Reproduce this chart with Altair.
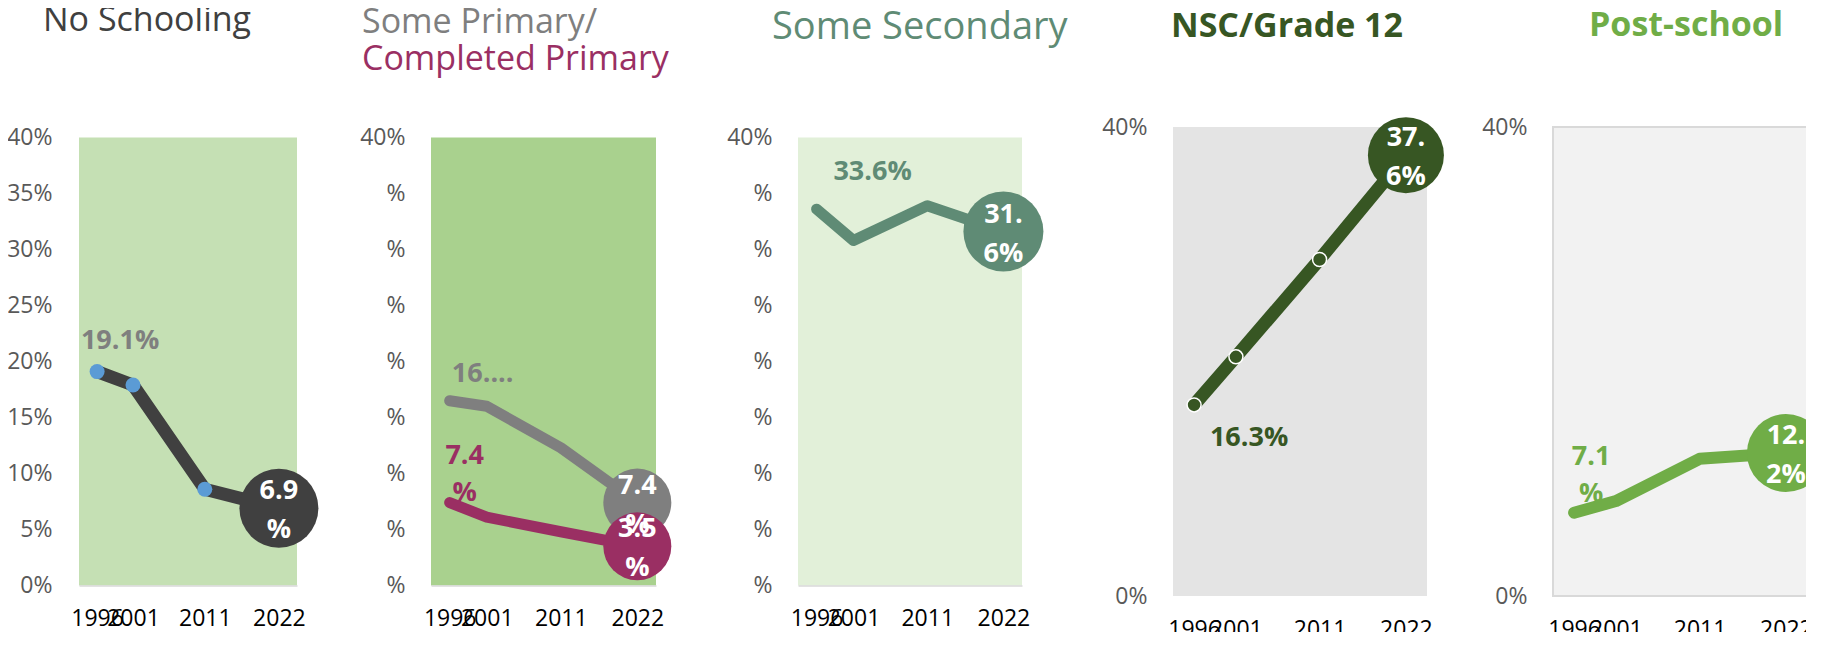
import altair as alt
import pandas as pd

# Census dates as decimal years (Oct 1996, Oct 2001, Oct 2011, Feb 2022)
census_years = [1996.77, 2001.77, 2011.77, 2022.09]
x_domain = [1994.25, 2024.61]

no_schooling = [19.1, 17.9, 8.6, 6.9]
some_primary = [16.5, 16.0, 12.3, 7.4]
completed_primary = [7.4, 6.1, 4.8, 3.5]
some_secondary = [33.6, 30.8, 33.9, 31.6]
nsc_grade12 = [16.3, 20.4, 28.7, 37.6]
post_school = [7.1, 8.1, 11.7, 12.2]

first_labels = ["19.1%", "16....", "7.4\n%", "33.6%", "16.3%", "7.1\n%"]
last_labels = ["6.9\n%", "7.4\n%", "3.5\n%", "31.\n6%", "37.\n6%", "12.\n2%"]

y_ticks_all = [0, 5, 10, 15, 20, 25, 30, 35, 40]
y_ticks_ends = [0, 40]

FONT = "Open Sans"


def axes(y_values, y_expr, y_pad, x_domain_line):
    X = alt.X(
        "year:Q",
        scale=alt.Scale(domain=x_domain, nice=False, zero=False),
        axis=alt.Axis(
            values=census_years, labelExpr="'' + floor(datum.value)", title=None,
            grid=False, ticks=False, tickSize=0, domain=x_domain_line,
            domainColor="#d9d9d9", domainWidth=1.5, labelFont=FONT, labelFontSize=23,
            labelColor="#000000", labelPadding=22, labelOverlap=False, labelFlush=False,
            labelBound=False,
        ),
    )
    Y = alt.Y(
        "value:Q",
        scale=alt.Scale(domain=[0, 40], nice=False, zero=True),
        axis=alt.Axis(
            values=y_values, labelExpr=y_expr, title=None, grid=False, ticks=False,
            tickSize=0, domain=False, labelFont=FONT, labelFontSize=23,
            labelColor="#595959", labelPadding=y_pad, labelOverlap=False,
            labelFlush=False, labelBound=False,
        ),
    )
    return X, Y


def make_panel(series, width, height, bg, y_values, y_expr, y_pad, title,
               x_domain_line=True, view_stroke=None, marker=None):
    X, Y = axes(y_values, y_expr, y_pad, x_domain_line)
    first_layers, line_layers, circle_layers, text_layers = [], [], [], []
    for s in series:
        df = pd.DataFrame({"year": census_years, "value": s["values"], "idx": [0, 1, 2, 3]})
        first = pd.DataFrame({"year": [census_years[0]], "value": [s["values"][0]],
                              "text": [s["first"]]})
        last = pd.DataFrame({"year": [census_years[-1]], "value": [s["values"][-1]],
                             "text": [s["last"]]})
        first_layers.append(
            alt.Chart(first).mark_text(
                font=FONT, fontSize=27, fontWeight="bold", color=s["label_color"],
                dx=s["dx"], dy=s["dy"], lineBreak="\n", lineHeight=37,
                align="center", baseline="middle",
            ).encode(x=X, y=Y, text="text:N")
        )
        line_layers.append(
            alt.Chart(df).mark_line(
                color=s["color"], strokeWidth=s["width"], strokeCap="round",
                strokeJoin="round",
            ).encode(x=X, y=Y)
        )
        if marker is not None:
            line_layers.append(
                alt.Chart(df).transform_filter(alt.datum.idx < 3).mark_point(
                    shape="circle", filled=True, opacity=1, size=marker["size"],
                    fill=marker["fill"], stroke=marker["stroke"],
                    strokeWidth=marker["strokeWidth"],
                ).encode(x=X, y=Y)
            )
        circle_layers.append(
            alt.Chart(last).mark_point(
                shape="circle", filled=True, opacity=1, size=s["circle"], color=s["color"],
            ).encode(x=X, y=Y)
        )
        text_layers.append(
            alt.Chart(last).mark_text(
                font=FONT, fontSize=27, fontWeight="bold", color="#ffffff",
                lineBreak="\n", lineHeight=39, align="center", baseline="middle", dy=-17,
            ).encode(x=X, y=Y, text="text:N")
        )
    vb = dict(fill=bg, strokeWidth=0)
    if view_stroke is not None:
        vb.update(stroke=view_stroke, strokeWidth=2)
    return alt.layer(*(first_layers + line_layers + circle_layers + text_layers)).properties(
        width=width, height=height, title=title, view=alt.ViewBackground(**vb)
    )


def spacer(w):
    return alt.Chart(pd.DataFrame({"a": [0]})).mark_point(opacity=0).encode(
        x=alt.value(0), y=alt.value(0)
    ).properties(width=w, height=10, view=alt.ViewBackground(strokeWidth=0, strokeOpacity=0))


p1 = make_panel(
    [dict(values=no_schooling, color="#404040", width=13, first=first_labels[0],
          last=last_labels[0], label_color="#7f7f7f", dx=23, dy=-31, circle=6241)],
    218, 448, "#c5e0b4", y_ticks_all, "datum.value + '%'", 27,
    alt.TitleParams("No Schooling", anchor="start", frame="group", dx=-36, offset=89,
                    font=FONT, fontSize=34, fontWeight="normal", color="#404040"),
    marker=dict(size=225, fill="#5b9bd5", stroke="#5b9bd5", strokeWidth=0),
)

p2 = make_panel(
    [dict(values=some_primary, color="#7f7f7f", width=11, first=first_labels[1],
          last=last_labels[1], label_color="#7f7f7f", dx=33, dy=-27, circle=4624),
     dict(values=completed_primary, color="#9a2f63", width=11, first=first_labels[2],
          last=last_labels[2], label_color="#9a2f63", dx=15, dy=-47, circle=4624)],
    225, 448, "#a9d18e", y_ticks_all, "datum.value == 40 ? '40%' : '%'", 26,
    alt.TitleParams("Some Primary/", subtitle="Completed Primary", anchor="start",
                    frame="group", dx=-69, offset=50, font=FONT, fontSize=34,
                    fontWeight="normal", color="#7f7f7f", subtitleFont=FONT,
                    subtitleFontSize=34, subtitleFontWeight="normal",
                    subtitleColor="#9a2f63", subtitlePadding=3),
)

p3 = make_panel(
    [dict(values=some_secondary, color="#5f8b75", width=11, first=first_labels[3],
          last=last_labels[3], label_color="#5f8b75", dx=56, dy=-37, circle=6400)],
    224, 448, "#e2f0d9", y_ticks_all, "datum.value == 40 ? '40%' : '%'", 26,
    alt.TitleParams("Some Secondary", anchor="start", frame="group", dx=-26, offset=80,
                    font=FONT, fontSize=38, fontWeight="normal", color="#5f8b75"),
)

p4 = make_panel(
    [dict(values=nsc_grade12, color="#375623", width=13, first=first_labels[4],
          last=last_labels[4], label_color="#375623", dx=55, dy=33, circle=5776)],
    254, 469, "#e4e4e4", y_ticks_ends, "datum.value + '%'", 26,
    alt.TitleParams("NSC/Grade 12", anchor="start", frame="group", dx=-2, offset=72,
                    font=FONT, fontSize=34, fontWeight="bold", color="#375623"),
    x_domain_line=False,
    marker=dict(size=196, fill="#375623", stroke="#ffffff", strokeWidth=1.5),
)

p5 = make_panel(
    [dict(values=post_school, color="#70ad47", width=12, first=first_labels[5],
          last=last_labels[5], label_color="#70ad47", dx=17, dy=-56, circle=6084)],
    254, 469, "#f2f2f2", y_ticks_ends, "datum.value + '%'", 26,
    alt.TitleParams("Post-school", anchor="start", frame="group", dx=36, offset=73,
                    font=FONT, fontSize=34, fontWeight="bold", color="#70ad47"),
    x_domain_line=False, view_stroke="#d9d9d9",
)

chart = alt.hconcat(
    p1, spacer(134), p2, spacer(142), p3, spacer(151), p4, spacer(126), p5,
    spacing=0, bounds="flush", center=True,
    padding={"left": -2, "top": -5, "right": -20, "bottom": -10},
).configure_view(strokeWidth=0)

chart.save("out.html", embed_options={"renderer": "svg", "actions": False})
